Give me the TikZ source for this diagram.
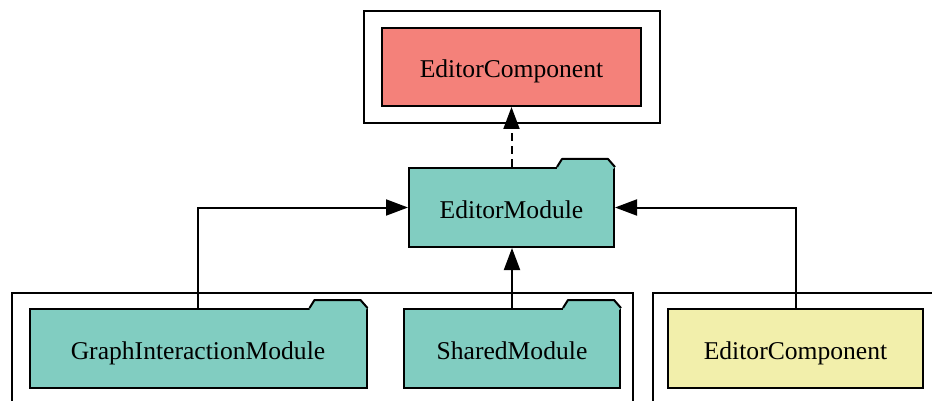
\documentclass[tikz,border=0pt]{standalone}
\usepackage{fontspec}
\setmainfont{Liberation Serif}
\usetikzlibrary{arrows.meta, positioning}

\definecolor{comped}{HTML}{F4817A}
\definecolor{modteal}{HTML}{81CDC1}
\definecolor{compyellow}{HTML}{F2EFAB}

% tab on top of a folder-shaped module node
\newcommand{\foldertab}[1]{%
  \fill[modteal] ([xshift=-29pt,yshift=-1.2pt]#1.north east) -- ([xshift=-29pt]#1.north east)
    -- ++(2.5pt,4pt) -- ([xshift=-3.5pt,yshift=4pt]#1.north east) -- (#1.north east)
    -- ([xshift=-1.2pt,yshift=-1.2pt]#1.north east) -- cycle;
  \draw[line width=1pt, line join=round] ([xshift=-29pt]#1.north east) -- ++(2.5pt,4pt)
    -- ([xshift=-3.5pt,yshift=4pt]#1.north east) -- (#1.north east);
}

\begin{document}
\begin{tikzpicture}[x=0.5pt, y=-0.5pt,
    font=\fontsize{12.8}{15}\selectfont,
    box/.style = {draw, line width=1pt, minimum height=39.5pt, inner sep=0pt,
      text height=11pt, text depth=0pt},
    module/.style = {box, fill=modteal},
    cluster/.style = {draw, line width=1pt},
    dep/.style = {line width=1pt, -{Triangle[length=11pt, width=8pt]}}]
    \useasboundingbox (0,0) rectangle (932,401);
    \clip (0,0) rectangle (932,401);

    % clusters
    \draw[cluster] (364,11) rectangle (660,123);
    \draw[cluster] (12,293) rectangle (633,420);
    \draw[cluster] (653,293) rectangle (960,420);

    \node[box, fill=comped, minimum width=129.5pt, minimum height=39pt] (main) at (511.5,67) {EditorComponent};
    \node[module, minimum width=102.5pt] (em) at (511.5,207.5) {EditorModule};
    \foldertab{em}
    \node[module, minimum width=168.5pt] (gim) at (198,348.5) {GraphInteractionModule};
    \foldertab{gim}
    \node[module, minimum width=108pt] (sm) at (512,348.5) {SharedModule};
    \foldertab{sm}
    \node[box, fill=compyellow, minimum width=127.5pt] (ec) at (795.5,348.5) {EditorComponent};

    % imports
    \draw[dep, dash pattern=on 4pt off 2.5pt] (em.north) -- (main.south);
    \draw[dep] (gim.north) |- (em.west);
    \draw[dep] (sm.north) -- (sm.north |- em.south);
    \draw[dep] (ec.north) |- (em.east);
\end{tikzpicture}
\end{document}
